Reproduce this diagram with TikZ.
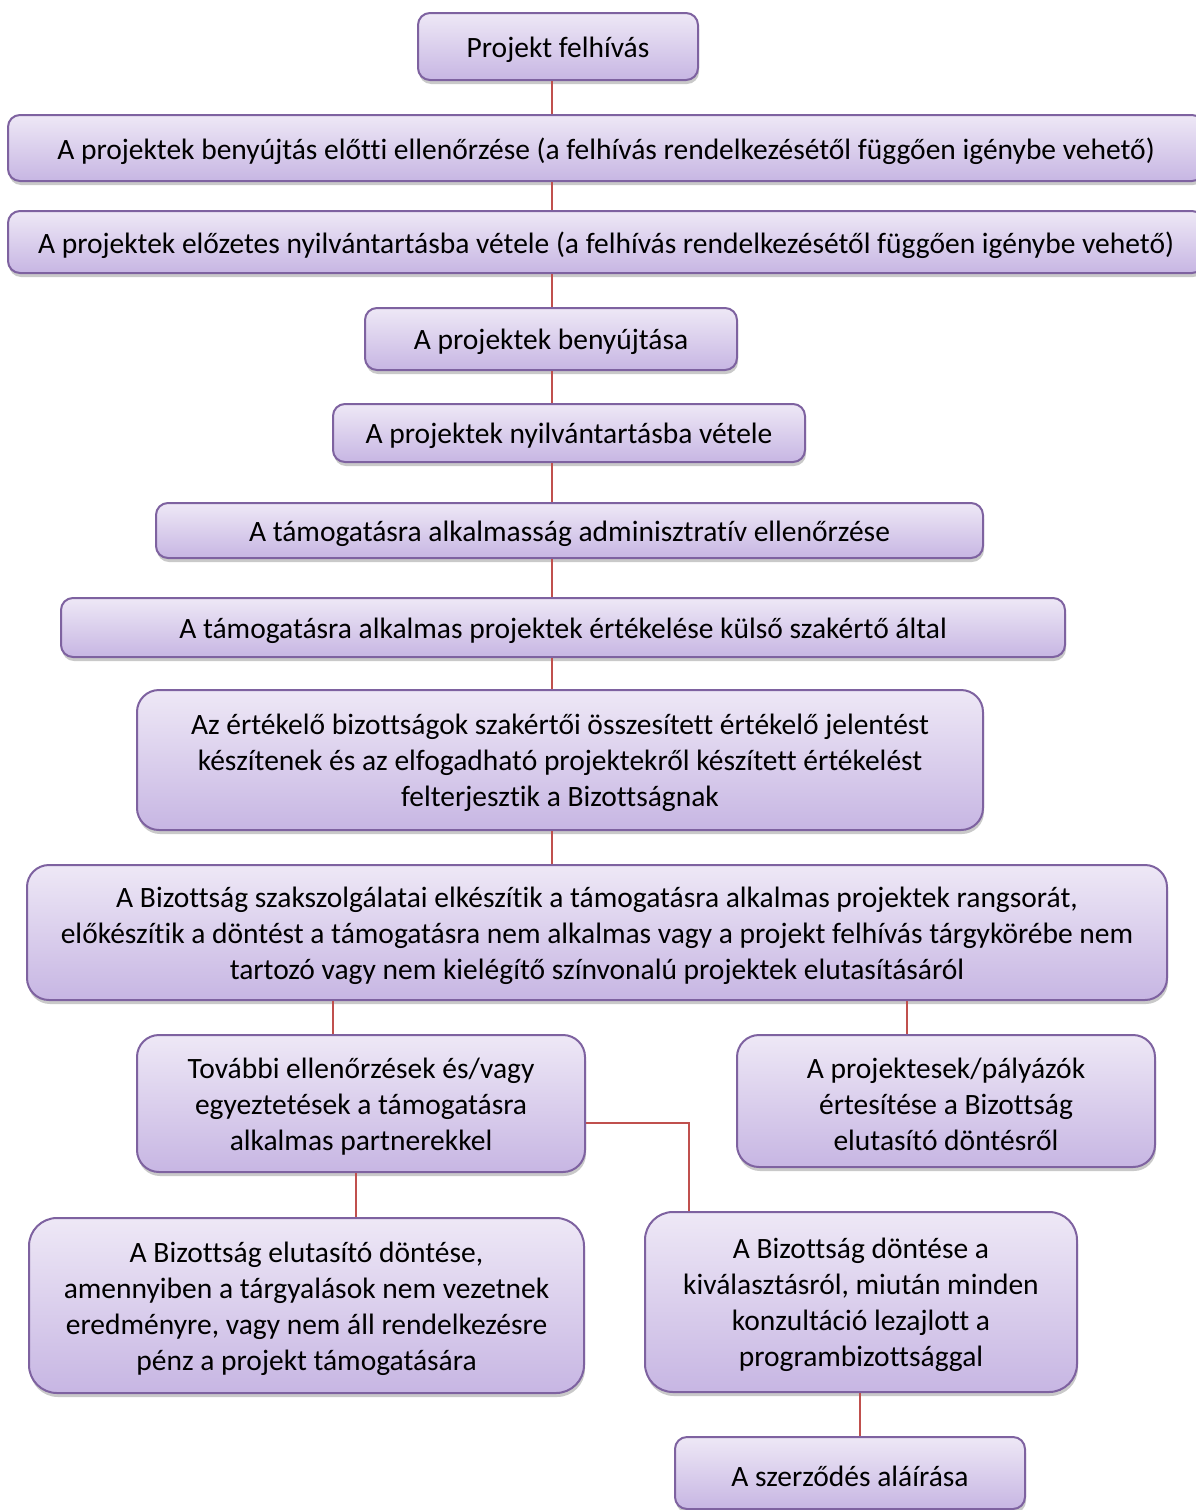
\documentclass[tikz,border=0pt]{standalone}
\usepackage{fontspec}
\setmainfont{Carlito}[Ligatures=CommonOff]
\usetikzlibrary{shadows}
\definecolor{boxtop}{HTML}{EEE8F6}
\definecolor{boxbottom}{HTML}{C7B6E3}
\definecolor{boxline}{HTML}{7E62A0}
\definecolor{linkred}{HTML}{C0504D}

\begin{document}
\begin{tikzpicture}[
        x=1pt, y=-1pt,
        stage/.style={draw=boxline, line width=2pt, top color=boxtop, bottom color=boxbottom,
            rounded corners=#1, inner sep=0pt,
            drop shadow={shadow xshift=1pt, shadow yshift=-4pt, opacity=.3, fill=black!70}},
        stage/.default=12pt,
        words/.style={align=center, inner sep=0pt, yshift=-3pt,
            font=\fontsize{29.5}{36}\selectfont},
        link/.style={draw=linkred, line width=2pt},
    ]
    \useasboundingbox (0, 0) rectangle (1195, 1510);

    \node[stage, minimum width=280pt, minimum height=67pt,
        label={[words]center:{Projekt felhívás}}] (call) at (558, 46.5) {};
    \node[stage, minimum width=1196pt, minimum height=66pt,
        label={[words]center:{A projektek benyújtás előtti ellenőrzése (a felhívás rendelkezésétől függően igénybe vehető)}}] (precheck) at (606, 148) {};
    \node[stage, minimum width=1196pt, minimum height=62pt,
        label={[words]center:{A projektek előzetes nyilvántartásba vétele (a felhívás rendelkezésétől függően igénybe vehető)}}] (prereg) at (606, 242) {};
    \node[stage, minimum width=372pt, minimum height=62pt,
        label={[words]center:{A projektek benyújtása}}] (submit) at (551, 339) {};
    \node[stage, minimum width=472pt, minimum height=58pt,
        label={[words]center:{A projektek nyilvántartásba vétele}}] (reg) at (569, 433) {};
    \node[stage, minimum width=827pt, minimum height=55pt,
        label={[words]center:{A támogatásra alkalmasság adminisztratív ellenőrzése}}] (admin) at (569.5, 530.5) {};
    \node[stage, minimum width=1004pt, minimum height=59pt,
        label={[words]center:{A támogatásra alkalmas projektek értékelése külső szakértő által}}] (expert) at (563, 627.5) {};
    \node[stage=22pt, minimum width=846pt, minimum height=140pt,
        label={[words]center:{Az értékelő bizottságok szakértői összesített értékelő jelentést\\készítenek és az elfogadható projektekről készített értékelést\\felterjesztik a Bizottságnak}}] (report) at (560, 760) {};
    \node[stage=22pt, minimum width=1140pt, minimum height=135pt,
        label={[words]center:{A Bizottság szakszolgálatai elkészítik a támogatásra alkalmas projektek rangsorát,\\előkészítik a döntést a támogatásra nem alkalmas vagy a projekt felhívás tárgykörébe nem\\tartozó vagy nem kielégítő színvonalú projektek elutasításáról}}] (rank) at (597, 932.5) {};
    \node[stage=22pt, minimum width=448pt, minimum height=137pt,
        label={[words]center:{További ellenőrzések és/vagy\\egyeztetések a támogatásra\\alkalmas partnerekkel}}] (further) at (361, 1103.5) {};
    \node[stage=22pt, minimum width=418pt, minimum height=132pt,
        label={[words]center:{A projektesek/pályázók\\értesítése a Bizottság\\elutasító döntésről}}] (notify) at (946, 1101) {};
    \node[stage=28pt, minimum width=555pt, minimum height=175pt,
        label={[words]center:{A Bizottság elutasító döntése,\\amennyiben a tárgyalások nem vezetnek\\eredményre, vagy nem áll rendelkezésre\\pénz a projekt támogatására}}] (reject) at (306.5, 1305.5) {};
    \node[stage=28pt, minimum width=432pt, minimum height=180pt,
        label={[words]center:{A Bizottság döntése a\\kiválasztásról, miután minden\\konzultáció lezajlott a\\programbizottsággal}}] (select) at (861, 1302) {};
    \node[stage, minimum width=350pt, minimum height=72pt,
        label={[words]center:{A szerződés aláírása}}] (contract) at (850, 1473) {};

    \coordinate (spine) at (552, 0);
    \coordinate (leftdrop) at (333, 0);
    \coordinate (rightdrop) at (907, 0);
    \coordinate (rejectdrop) at (356, 0);
    \coordinate (selectdrop) at (689, 0);
    \coordinate (selectrow) at (0, 1123);
    \coordinate (contractdrop) at (860, 0);

    \foreach \a/\b in {call/precheck, precheck/prereg, prereg/submit, submit/reg, reg/admin, admin/expert, expert/report, report/rank}
        \draw[link] (\a.south -| spine) -- (\b.north -| spine);

    \draw[link] (rank.south -| leftdrop) -- (further.north -| leftdrop);
    \draw[link] (rank.south -| rightdrop) -- (notify.north -| rightdrop);
    \draw[link] (further.south -| rejectdrop) -- (reject.north -| rejectdrop);
    \draw[link] (further.east |- selectrow) -| (select.north -| selectdrop);
    \draw[link] (select.south -| contractdrop) -- (contract.north -| contractdrop);
\end{tikzpicture}
\end{document}
